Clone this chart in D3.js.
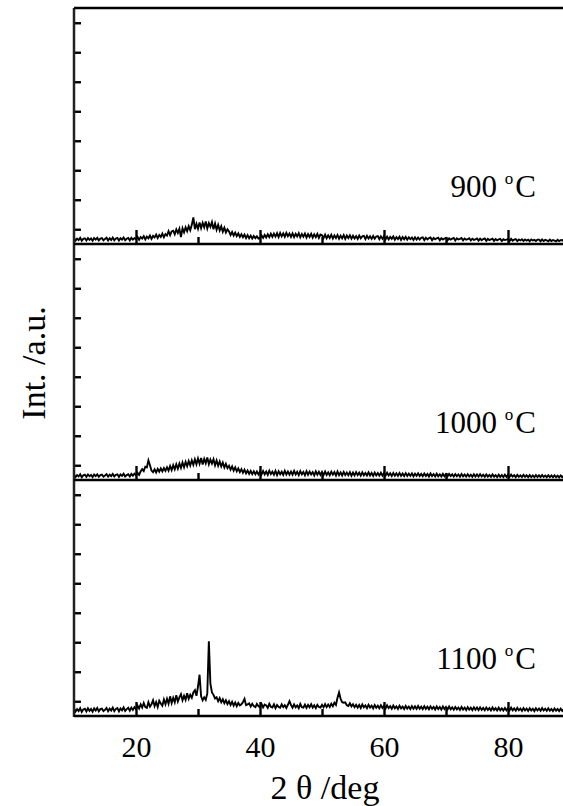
<!DOCTYPE html>
<svg width="563" height="806"></svg>
<style>
  body { margin: 0; background: #fff; }
  svg { display: block; font-family: "Liberation Serif", "Times New Roman", serif; }
</style>
<script src="https://d3js.org/d3.v7.min.js"></script>
<script>

// 2theta sampling of the scans: 10 deg to 90 deg, every 0.25 deg
var angleStart = 10, angleStep = 0.25;

var labels = ["900", "1000", "1100"];

// intensities (a.u.), noise included
var int900 = [
  60,35,55,40,63,33,52,58,36,61,42,57,34,60,45,62,37,55,59,38,
  52,64,36,58,41,65,38,56,62,35,59,44,66,39,54,61,37,63,45,60,
  50,72,42,70,55,80,46,75,58,86,52,82,66,95,60,92,72,105,68,100,
  85,130,90,128,135,98,148,112,155,70,160,118,170,130,182,140,195,270,150,205,
  155,220,160,215,170,228,158,212,175,222,150,208,145,195,138,180,125,165,118,150,
  128,92,122,86,115,80,108,72,100,68,95,60,90,58,85,55,82,60,78,55,
  60,88,62,92,66,98,70,104,72,106,75,110,70,112,78,108,74,114,80,106,
  72,108,70,104,76,110,68,102,74,106,66,100,72,104,64,98,70,102,62,96,
  90,60,96,58,88,62,94,56,86,60,92,54,84,58,90,52,86,60,88,54,
  84,56,80,52,86,58,78,82,50,84,56,78,52,82,54,76,80,48,78,54,
  78,48,74,46,72,52,76,44,70,50,74,42,70,48,72,44,68,50,66,42,
  68,44,66,46,62,68,40,64,46,60,66,38,62,48,58,64,38,60,46,56,
  62,38,58,44,54,62,36,58,46,52,60,36,56,44,50,58,36,54,42,48,
  56,34,54,38,50,56,32,52,40,48,54,32,50,38,46,52,30,48,40,44,
  50,30,52,34,44,50,30,46,36,48,32,46,34,44,28,46,36,42,30,44,
  44,28,46,30,42,36,28,44,30,40,34,26,42,30,38,40,26,40,32,36,
  34
];

var int1000 = [
  55,30,50,36,58,28,47,54,32,56,38,52,30,55,40,57,33,50,54,34,
  46,60,34,54,40,62,36,52,58,32,56,42,63,36,50,58,35,62,44,64,
  48,72,52,88,110,90,135,128,200,150,96,80,108,76,112,84,118,88,122,94,
  130,95,142,100,150,108,160,115,168,124,178,130,185,140,192,148,200,155,210,160,
  218,165,225,158,215,170,230,160,208,168,212,150,198,145,188,138,178,128,165,120,
  145,105,138,96,128,88,118,80,110,74,104,68,96,62,92,60,88,58,86,56,
  88,56,92,58,86,52,94,60,84,54,92,50,88,58,84,52,94,56,86,54,
  86,54,92,56,84,50,90,58,82,48,90,54,86,56,80,48,88,54,84,52,
  82,50,86,52,78,48,84,54,80,46,86,50,76,46,82,50,76,48,80,44,
  76,46,80,50,74,44,78,48,72,46,78,46,72,42,76,46,70,44,74,44,
  70,44,74,46,68,40,72,44,68,42,72,42,66,40,70,42,64,42,68,38,
  64,42,68,40,62,38,66,40,62,36,66,40,60,36,64,38,58,36,62,38,
  60,38,62,40,58,36,60,38,56,34,60,36,56,34,58,36,54,32,58,34,
  56,34,58,36,54,32,56,34,52,32,56,34,50,30,54,32,50,30,54,32,
  52,32,54,34,50,30,52,32,48,30,52,32,48,28,50,30,46,28,50,30,
  48,30,50,32,46,28,48,30,46,28,48,28,44,26,46,28,44,26,46,28,
  36
];

var int1100 = [
  76,45,70,50,80,42,66,74,46,78,52,72,44,77,55,82,48,70,75,50,
  62,82,48,74,56,85,50,72,80,46,76,58,88,52,70,84,54,86,62,90,
  70,105,76,118,86,132,90,82,140,96,120,160,100,142,92,155,128,104,168,120,
  175,125,200,132,185,140,212,148,190,222,160,205,165,232,175,215,185,240,262,205,
  300,420,200,160,190,165,230,760,330,240,215,178,190,150,182,140,170,130,160,122,
  150,112,145,106,138,100,132,108,120,140,175,110,118,128,96,124,100,90,122,98,
  90,122,88,116,108,82,124,94,86,118,80,112,92,84,118,90,110,82,114,150,
  112,84,118,88,108,80,122,90,86,116,82,112,88,120,86,108,80,114,92,86,
  114,88,120,90,116,92,125,100,135,112,185,240,175,140,135,138,110,102,130,98,
  120,90,114,86,112,82,118,88,108,80,114,86,106,78,112,84,104,78,110,82,
  104,76,108,80,100,74,106,78,98,72,104,78,96,70,102,76,96,70,100,74,
  98,72,102,74,95,70,100,72,94,68,98,72,92,66,97,70,92,65,96,70,
  92,66,96,68,88,64,92,68,86,62,92,66,86,60,90,64,84,60,88,64,
  86,60,88,62,82,58,86,62,80,56,86,60,80,56,84,58,78,56,82,58,
  80,56,84,58,78,54,82,58,76,52,80,56,76,52,78,56,74,50,78,56,
  76,54,80,56,74,52,78,54,72,50,76,54,72,50,74,52,70,48,74,52,
  62
];

var xMajor = [20, 40, 60, 80],
    xMinor = [30, 50, 70];

var serif = "'Liberation Serif', 'Times New Roman', serif";

var svg = d3.select("svg"),
    left = 74,
    panelTop = [8, 244, 480],
    panelH = 236,
    bottomEdge = panelTop[2] + panelH;

var x = d3.scaleLinear().domain([10, 90]).range([left, 570]);

var yMajor = d3.range(0, 2401, 300),
    yMinor = d3.range(150, 2400, 300);

var series = [int900, int1000, int1100];

series.forEach(function(vals, i) {
  var top = panelTop[i],
      bottom = top + panelH;

  var y = d3.scaleLinear().domain([0, 2400]).range([bottom, top]);

  var line = d3.line()
      .x(function(d, j) { return x(angleStart + j * angleStep); })
      .y(function(d) { return y(d); });

  // the scan
  svg.append("path")
      .datum(vals)
      .attr("fill", "none")
      .attr("stroke", "#000")
      .attr("stroke-width", 1.9)
      .attr("d", line);

  // inward ticks on the left axis
  var gl = svg.append("g").attr("transform", "translate(" + left + ",0)");
  gl.call(d3.axisRight(y).tickValues(yMajor).tickSize(14).tickFormat(""));
  gl.call(d3.axisRight(y).tickValues(yMinor).tickSize(7).tickFormat(""));

  // inward ticks on the bottom axis
  var gb = svg.append("g").attr("transform", "translate(0," + bottom + ")");
  gb.call(d3.axisTop(x).tickValues(xMajor).tickSize(14).tickFormat(""));
  gb.append("g").call(d3.axisTop(x).tickValues(xMinor).tickSize(7).tickFormat(""));

  svg.selectAll(".domain").remove();

  // temperature label
  var t = svg.append("text")
      .attr("x", 536)
      .attr("y", bottom - 47)
      .attr("text-anchor", "end")
      .style("font-family", serif)
      .style("font-size", "31px")
      .text(labels[i] + " ");
  t.append("tspan").attr("dy", -13).style("font-size", "17px").text("o");
  t.append("tspan").attr("dy", 13).attr("dx", 2).text("C");
});

svg.selectAll(".tick line").attr("stroke", "#000").attr("stroke-width", 2.4);

// frame lines: left axis, top line and panel baselines
svg.append("line")
    .attr("x1", left).attr("x2", left)
    .attr("y1", panelTop[0]).attr("y2", bottomEdge + 1)
    .attr("stroke", "#222").attr("stroke-width", 2.5);

[panelTop[0], panelTop[1], panelTop[2], bottomEdge].forEach(function(yy) {
  svg.append("line")
      .attr("x1", left).attr("x2", 563)
      .attr("y1", yy).attr("y2", yy)
      .attr("stroke", "#000").attr("stroke-width", 2.5);
});

// x tick labels under the last panel
svg.append("g")
    .attr("transform", "translate(0," + bottomEdge + ")")
    .attr("font-family", serif)
    .attr("font-size", 30)
    .call(d3.axisBottom(x).tickValues(xMajor).tickSize(0).tickPadding(20))
    .call(function(g) { g.select(".domain").remove(); })
    .selectAll("text")
    .attr("fill", "#000")
    .style("font-family", serif)
    .style("font-size", "30px");

// axis titles
svg.append("text")
    .attr("x", 325)
    .attr("y", 799)
    .attr("text-anchor", "middle")
    .style("font-family", serif)
    .style("font-size", "34px")
    .text("2 θ /deg");

svg.append("text")
    .attr("transform", "translate(45,363) rotate(-90)")
    .attr("text-anchor", "middle")
    .style("font-family", serif)
    .style("font-size", "34px")
    .text("Int. /a.u.");

</script>
